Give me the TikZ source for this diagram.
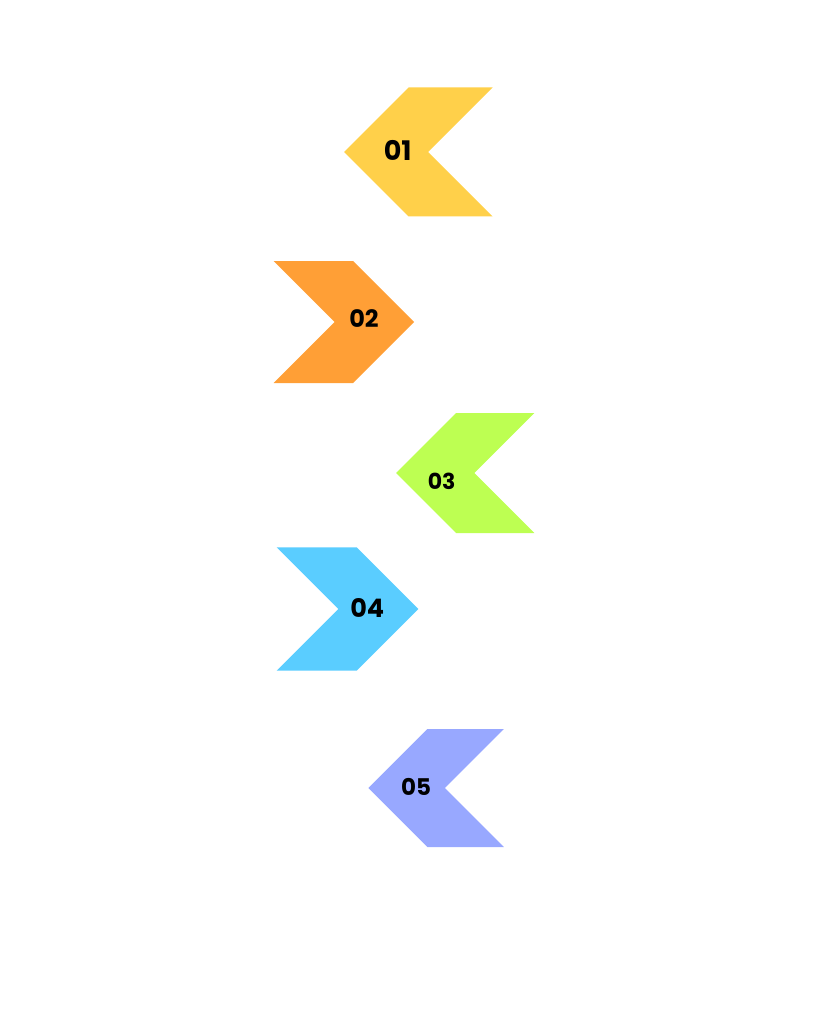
\documentclass[tikz,border=0pt]{standalone}
\usepackage{fontspec}
\newfontfamily\poppins{Poppins}
\usepackage{tikz}
\definecolor{chevYellow}{RGB}{255,208,74}
\definecolor{chevOrange}{RGB}{255,159,54}
\definecolor{chevGreen}{RGB}{189,255,82}
\definecolor{chevBlue}{RGB}{90,205,255}
\definecolor{chevPurple}{RGB}{152,168,255}
\tikzset{%
  every chevron/.style={
    draw=none
  },
  step label/.style={
    inner sep=0pt,
    text=black,
    font=\poppins\bfseries\fontsize{#1}{#1}\selectfont
  },
}

\begin{document}
\begin{tikzpicture}[x=1pt, y=-1pt]

    \useasboundingbox (0,0) rectangle (819,1024);

    % direction / tip x / tip y / half height / band width / colour / label x / label y / size
    \foreach \d/\tx/\ty/\h/\w/\c/\lx/\ly/\s [count=\i] in {
        1/344/152/64.5/84/chevYellow/397.7/150.7/27,
        -1/414/322/61/79.4/chevOrange/364/319/24,
        1/396/473/60/78.3/chevGreen/441.7/481.7/22,
        -1/418.3/609/61.7/80/chevBlue/367.3/608.3/25.5,
        1/368.3/788/59/76.6/chevPurple/416/786.7/23}
    {
    \fill [every chevron, \c] (\tx,\ty) -- ++({\d*\h},{-\h}) -- ++({\d*\w},0)
        -- ++({-\d*\h},{\h}) -- ++({\d*\h},{\h}) -- ++({-\d*\w},0) -- cycle;
    \node [step label=\s] (step-\i) at (\lx,\ly) {0\i};
    }

\end{tikzpicture}
\end{document}
